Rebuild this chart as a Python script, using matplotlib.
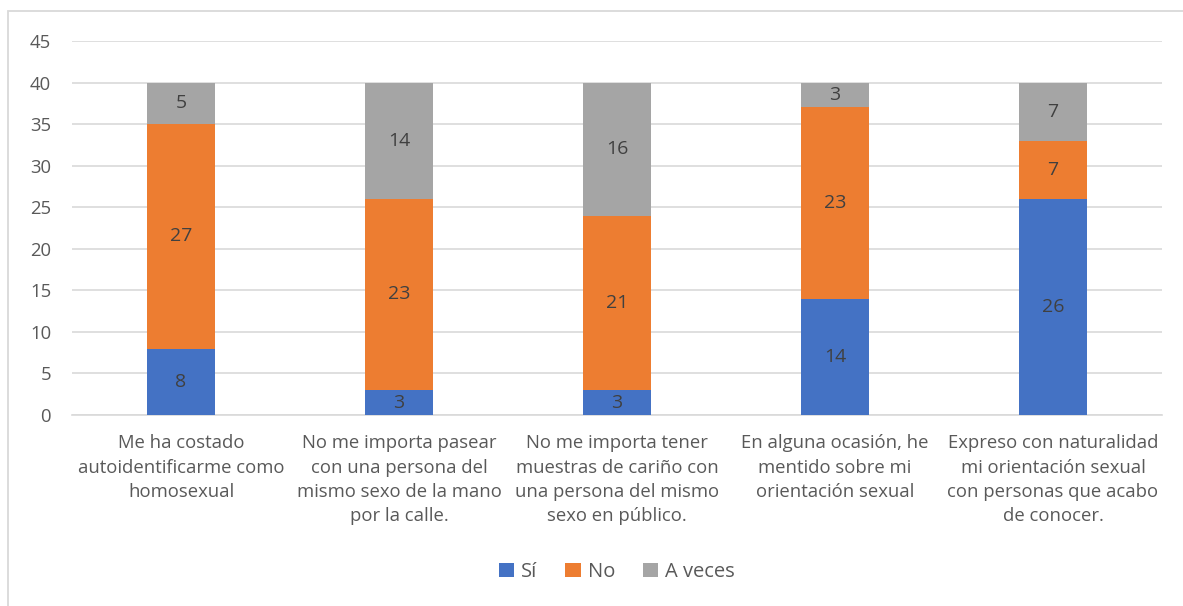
import matplotlib.pyplot as plt
import numpy as np
from matplotlib.patches import Rectangle

plt.rcParams['font.family'] = ['Open Sans', 'DejaVu Sans']

categories = [
    "Me ha costado\nautoidentificarme como\nhomosexual",
    "No me importa pasear\ncon una persona del\nmismo sexo de la mano\npor la calle.",
    "No me importa tener\nmuestras de cariño con\nuna persona del mismo\nsexo en público.",
    "En alguna ocasión, he\nmentido sobre mi\norientación sexual",
    "Expreso con naturalidad\nmi orientación sexual\ncon personas que acabo\nde conocer.",
]
si = [8, 3, 3, 14, 26]
no = [27, 23, 21, 23, 7]
a_veces = [5, 14, 16, 3, 7]
series_names = ["Sí", "No", "A veces"]
colors = ["#4472C4", "#ED7D31", "#A5A5A5"]
text_color = "#595959"

fig = plt.figure(figsize=(11.83, 6.06), dpi=100)
ax = fig.add_axes([72 / 1183, 1 - 415 / 606, (1162 - 72) / 1183, (415 - 41) / 606])

# outer chart frame
fig.patches.append(Rectangle((8 / 1183, -0.01), 1.02, 1 - 11 / 606 + 0.01,
                             transform=fig.transFigure, fill=False,
                             edgecolor="#D9D9D9", linewidth=1.3))

x = np.arange(len(categories))
bottom = np.zeros(len(categories))
for name, vals, col in zip(series_names, [si, no, a_veces], colors):
    bars = ax.bar(x, vals, 0.31, bottom=bottom, color=col, label=name, zorder=3)
    for b, v, bt in zip(bars, vals, bottom):
        ax.text(b.get_x() + b.get_width() / 2, bt + v / 2, str(v),
                ha="center", va="center", fontsize=14, color="#404040", zorder=4)
    bottom += np.array(vals)

ax.set_xlim(-0.5, len(categories) - 0.5)
ax.set_ylim(0, 45)
ax.set_yticks(range(0, 46, 5))
ax.grid(axis="y", color="#D9D9D9", linewidth=1.2, zorder=0)
for s in ["top", "right", "left"]:
    ax.spines[s].set_visible(False)
ax.spines["bottom"].set_color("#D9D9D9")
ax.spines["bottom"].set_linewidth(1.2)
ax.tick_params(axis="both", length=0, colors=text_color, labelsize=13.3)
ax.tick_params(axis="y", pad=15)
ax.tick_params(axis="x", pad=14)
ax.set_xticks(x)
ax.set_xticklabels(categories, linespacing=1.45)

ax.legend(loc="center", bbox_to_anchor=(0.5, 1 - (572 - 41) / (415 - 41)),
          ncol=3, frameon=False, fontsize=14.5, handlelength=0.75, handleheight=0.75,
          columnspacing=1.4, handletextpad=0.35, labelcolor=text_color)

fig.savefig("out.png", dpi=100)
